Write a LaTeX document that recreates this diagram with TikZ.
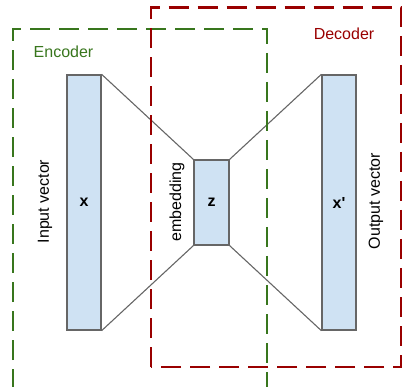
\documentclass[tikz,border=0pt]{standalone}
\usepackage{fontspec}
\setmainfont{Liberation Sans}
\definecolor{encgreen}{HTML}{38761D}
\definecolor{decred}{HTML}{990000}
\definecolor{boxfill}{HTML}{CFE2F3}
\definecolor{boxline}{HTML}{666666}
\begin{document}
\begin{tikzpicture}[x=1pt,y=-1pt,
  vec/.style={draw=boxline,fill=boxfill,line width=1.3pt,inner sep=0pt,font=\fontsize{16}{19}\selectfont\bfseries},
  link/.style={draw=boxline,line width=1.1pt},
  frame/.style={line width=2.8pt,dash pattern=on 20pt off 9pt},
  lbl/.style={font=\fontsize{16}{19}\selectfont,inner sep=0pt}]
\useasboundingbox (0,0) rectangle (404,387);
% vectors
\node[vec,minimum width=34pt,minimum height=255pt] (xin) at (84,202.5) {x};
\node[vec,minimum width=35pt,minimum height=85pt] (z) at (211.5,202.5) {z};
\node[vec,minimum width=34pt,minimum height=255pt] (xout) at (339,202.5) {x\textquotesingle};
% connectors
\draw[link] (xin.north east) -- (z.north west);
\draw[link] (xin.south east) -- (z.south west);
\draw[link] (z.north east) -- (xout.north west);
\draw[link] (z.south east) -- (xout.south west);
% frames
\draw[frame,encgreen] (13,389) -- (13,29) -- (267,29) -- (267,389);
\draw[frame,encgreen,opacity=0.35] (13,388) -- (267,388);
\draw[frame,decred] (151,367) rectangle (401,7.5);
% labels
\node[lbl,text=encgreen] (enc) at (63.5,52) {Encoder};
\node[lbl,text=decred] (dec) at (344,34) {Decoder};
\node[lbl,rotate=90] (inv) at (45,201.5) {Input vector};
\node[lbl,rotate=90] (emb) at (177,202) {embedding};
\node[lbl,rotate=90] (outv) at (376,201) {Output vector};
\end{tikzpicture}
\end{document}
